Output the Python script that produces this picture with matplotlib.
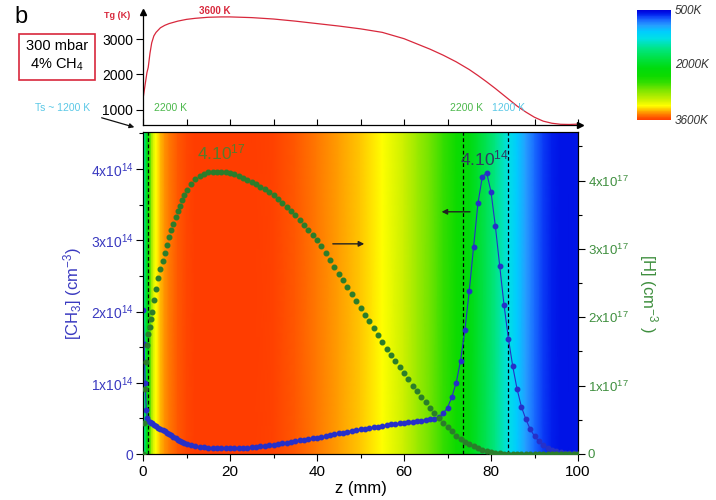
import numpy as np
import matplotlib
matplotlib.use("Agg")
import matplotlib.pyplot as plt
from matplotlib.colors import LinearSegmentedColormap, Normalize
import matplotlib.cm as cm
from matplotlib.ticker import MultipleLocator, FixedLocator

plt.rcParams['font.family'] = ['Liberation Sans', 'DejaVu Sans']
plt.rcParams['mathtext.fontset'] = 'custom'
plt.rcParams['mathtext.rm'] = 'Liberation Sans'
plt.rcParams['mathtext.it'] = 'Liberation Sans:italic'
plt.rcParams['mathtext.bf'] = 'Liberation Sans:bold'

# ---------------- data ----------------
# gas temperature profile Tg(z)
tg_z = [0, 0.3, 0.6, 0.9, 1.2, 1.6, 2, 2.5, 3, 4, 5, 6, 8, 10, 12, 15, 18, 20, 25, 30,
        35, 40, 45, 50, 55, 60, 63, 66, 69, 72, 73.5, 75, 77, 79, 81, 83, 84, 86, 88, 90,
        92, 94, 96, 98, 100]
tg_T = [1300, 1550, 1800, 2050, 2200, 2600, 2900, 3100, 3200, 3330, 3400, 3450, 3520, 3570, 3600,
        3630, 3640, 3640, 3620, 3580, 3520, 3450, 3380, 3300, 3200, 3020, 2870, 2720, 2550, 2360,
        2250, 2140, 1970, 1790, 1600, 1400, 1300, 1100, 930, 780, 670, 610, 580, 575, 585]

# z grid for species profiles (mm)
z = ([0, 0.25, 0.5, 0.75, 1.0, 1.25, 1.5, 1.75, 2.0]
     + [2.5, 3.0, 3.5, 4.0, 4.5, 5.0, 5.5, 6.0, 6.5, 7.0, 7.5, 8.0, 8.5, 9.0, 9.5]
     + list(range(10, 101)))

# [H] in units of 1e17 cm^-3
h_vals = [0.0, 0.45, 0.95, 1.35, 1.60, 1.75, 1.86, 1.97, 2.07,
          2.25, 2.42, 2.57, 2.70, 2.82, 2.94, 3.05, 3.17, 3.27, 3.36, 3.46, 3.55, 3.63, 3.72, 3.79,
          3.86, 3.95, 4.02, 4.07, 4.10, 4.12, 4.13, 4.13, 4.13, 4.12,   # 10-19
          4.11, 4.09, 4.07, 4.04, 4.01, 3.98, 3.95, 3.91, 3.87, 3.83,   # 20-29
          3.79, 3.73, 3.67, 3.61, 3.55, 3.49, 3.42, 3.35, 3.28, 3.21,   # 30-39
          3.13, 3.04, 2.94, 2.84, 2.74, 2.64, 2.54, 2.44, 2.34, 2.24,   # 40-49
          2.14, 2.04, 1.94, 1.84, 1.74, 1.64, 1.54, 1.45, 1.36, 1.27,   # 50-59
          1.18, 1.09, 1.00, 0.92, 0.84, 0.76, 0.68, 0.60, 0.53, 0.46,   # 60-69
          0.39, 0.33, 0.27, 0.22, 0.18, 0.14, 0.11, 0.085, 0.065, 0.045,  # 70-79
          0.03, 0.02, 0.012, 0.007, 0.004, 0.002, 0.001, 0.0, 0.0, 0.0,  # 80-89
          0.0, 0.0, 0.0, 0.0, 0.0, 0.0, 0.0, 0.0, 0.0, 0.0, 0.0]         # 90-100

# [CH3] in units of 1e14 cm^-3
ch3_vals = [2.02, 1.55, 1.00, 0.62, 0.50, 0.47, 0.45, 0.44, 0.43,
            0.41, 0.39, 0.37, 0.355, 0.34, 0.32, 0.30, 0.28, 0.26, 0.24, 0.22, 0.20, 0.185, 0.17, 0.155,
            0.14, 0.125, 0.11, 0.10, 0.092, 0.087, 0.083, 0.08, 0.08, 0.08,   # 10-19
            0.08, 0.08, 0.082, 0.085, 0.09, 0.095, 0.10, 0.107, 0.115, 0.122,  # 20-29
            0.13, 0.14, 0.15, 0.16, 0.17, 0.18, 0.19, 0.20, 0.21, 0.22,        # 30-39
            0.23, 0.24, 0.25, 0.26, 0.275, 0.29, 0.30, 0.315, 0.325, 0.335,    # 40-49
            0.345, 0.355, 0.365, 0.375, 0.385, 0.395, 0.405, 0.415, 0.425, 0.43,  # 50-59
            0.44, 0.445, 0.455, 0.46, 0.47, 0.475, 0.485, 0.495, 0.52, 0.57,   # 60-69
            0.65, 0.80, 1.00, 1.31, 1.74, 2.29, 2.91, 3.52, 3.89, 3.95,        # 70-79
            3.68, 3.20, 2.64, 2.09, 1.62, 1.23, 0.91, 0.66, 0.49, 0.35,        # 80-89
            0.25, 0.18, 0.13, 0.09, 0.06, 0.045, 0.03, 0.02, 0.015, 0.01, 0.008]  # 90-100

dashed_z = [1.2, 73.5, 84.0]
ch3_ticks = [0, 1, 2, 3, 4]
ch3_ticklabels = ['0', '1x10$^{14}$', '2x10$^{14}$', '3x10$^{14}$', '4x10$^{14}$']
h_ticks = [0, 1, 2, 3, 4]
h_ticklabels = ['0', '1x10$^{17}$', '2x10$^{17}$', '3x10$^{17}$', '4x10$^{17}$']
x_ticks = [0, 20, 40, 60, 80, 100]
tg_ticks = [1000, 2000, 3000]
cb_ticks = [500, 2000, 3600]
cb_ticklabels = ['500K', '2000K', '3600K']

# ---------------- colours ----------------
stops_T = [500, 600, 680, 780, 930, 1100, 1300, 1600, 1880, 2140, 2360, 2550, 2770, 3020,
           3200, 3300, 3380, 3450, 3530, 3600]
stops_c = [(0, 0, 0.85), (0, 0.1, 0.92), (0.05, 0.25, 0.97), (0.1, 0.42, 1), (0.15, 0.62, 1),
           (0, 0.8, 1), (0, 0.88, 0.9), (0, 0.9, 0.5), (0, 0.88, 0.25), (0, 0.86, 0.05),
           (0.05, 0.86, 0), (0.2, 0.87, 0), (0.5, 0.9, 0), (0.78, 0.94, 0), (1, 1, 0),
           (1, 0.8, 0), (1, 0.62, 0), (1, 0.48, 0), (1, 0.34, 0), (1, 0.24, 0)]
tmin, tmax = 500, 3600
cmap = LinearSegmentedColormap.from_list(
    'plasma_T', [((t - tmin) / (tmax - tmin), c) for t, c in zip(stops_T, stops_c)])
norm = Normalize(tmin, tmax, clip=True)

BLUE = '#2630c8'
BLUE_TXT = '#3a3ac0'
GREEN = '#2b7d2b'
GREEN_TXT = '#3f8f3f'
RED = '#d8283c'

W, H = 716, 500
fig = plt.figure(figsize=(W / 100, H / 100), dpi=100)


def fx(x):
    return x / W


def fy(y):
    return 1 - y / H


# ---------------- main axes ----------------
ax = fig.add_axes([fx(143), fy(454), fx(578) - fx(143), fy(132) - fy(454)])
ax.set_xlim(0, 100)
ax.set_ylim(0, 4.52)
C = np.vstack([tg_T, tg_T])
ax.pcolormesh(tg_z, [0, 4.52], C, cmap=cmap, norm=norm, shading='gouraud', zorder=0)
for dz in dashed_z:
    ax.axvline(dz, color='k', lw=0.9, ls=(0, (3, 2)), zorder=1)
ax.plot(z, ch3_vals, '-o', color=BLUE, lw=0.8, ms=3.2, mec=BLUE, mfc=BLUE, zorder=3)

ax.xaxis.set_major_locator(FixedLocator(x_ticks))
ax.xaxis.set_minor_locator(MultipleLocator(10))
ax.set_yticks(ch3_ticks)
ax.set_yticklabels(ch3_ticklabels)
ax.yaxis.set_minor_locator(MultipleLocator(0.5))
ax.tick_params(axis='x', which='major', length=5, width=0.8, labelsize=11, pad=3)
ax.tick_params(axis='x', which='minor', length=3, width=0.8)
ax.tick_params(axis='y', which='major', length=5, width=0.8, labelsize=10, colors='k',
               labelcolor=BLUE_TXT, pad=2)
ax.tick_params(axis='y', which='minor', length=3, width=0.8)
for s in ax.spines.values():
    s.set_linewidth(0.8)
ax.set_xlabel('z (mm)', fontsize=12, labelpad=1)

ax2 = ax.twinx()
ax2.set_ylim(0, 4.71)
ax2.plot(z, h_vals, 'o', color=GREEN, ms=3.3, mec=GREEN, mfc=GREEN, zorder=3)
ax2.set_yticks(h_ticks)
ax2.set_yticklabels(h_ticklabels)
ax2.yaxis.set_minor_locator(MultipleLocator(0.5))
ax2.tick_params(axis='y', which='major', length=5, width=0.8, labelsize=9.5,
                labelcolor=GREEN_TXT, pad=2)
ax2.tick_params(axis='y', which='minor', length=3, width=0.8)

fig.text(fx(73), fy(293), '[CH$_3$] (cm$^{-3}$)', rotation=90, color=BLUE_TXT,
         fontsize=12, ha='center', va='center')
fig.text(fx(648), fy(293), '[H] (cm$^{-3}$ )', rotation=-90, color=GREEN_TXT,
         fontsize=12, ha='center', va='center')

fig.text(fx(221), fy(152), '4.10$^{17}$', color='#5a7a2a', fontsize=12.5, ha='center', va='center')
fig.text(fx(485), fy(158), '4.10$^{14}$', color='#303a60', fontsize=12.5, ha='center', va='center')
ax.annotate('', xy=(51.5, 2.95), xytext=(43.0, 2.95),
            arrowprops=dict(arrowstyle='-|>', color='#222222', lw=1.0, mutation_scale=8))
ax.annotate('', xy=(68.0, 3.40), xytext=(75.8, 3.40),
            arrowprops=dict(arrowstyle='-|>', color='#222222', lw=1.0, mutation_scale=8))

# ---------------- top Tg panel ----------------
axt = fig.add_axes([fx(143), fy(125), fx(578) - fx(143), fy(12) - fy(125)])
axt.set_xlim(0, 100)
axt.set_ylim(560, 3780)
axt.plot(tg_z, tg_T, color=RED, lw=0.9)
axt.patch.set_alpha(0)
for side in ['top', 'right']:
    axt.spines[side].set_visible(False)
for side in ['left', 'bottom']:
    axt.spines[side].set_linewidth(0.9)
axt.plot(1.005, 0, '>k', ms=4, transform=axt.transAxes, clip_on=False)
axt.plot(0, 1.0, '^k', ms=4, transform=axt.transAxes, clip_on=False)
axt.set_yticks(tg_ticks)
axt.tick_params(axis='y', length=5, width=0.8, labelsize=10, pad=2)
axt.xaxis.set_major_locator(FixedLocator(x_ticks))
axt.xaxis.set_minor_locator(MultipleLocator(10))
axt.tick_params(axis='x', which='major', direction='in', length=4, width=0.8, labelbottom=False)
axt.tick_params(axis='x', which='minor', direction='in', length=4, width=0.8)

fig.text(fx(117), fy(15), 'Tg (K)', color=RED, fontsize=6.5, fontweight='bold', ha='center', va='center')
fig.text(fx(215), fy(11), '3600 K', color=RED, fontsize=7, fontweight='bold', ha='center', va='center')
fig.text(fx(170), fy(108), '2200 K', color='#4bb84b', fontsize=7.5, ha='center', va='center')
fig.text(fx(63), fy(108), 'Ts ~ 1200 K', color='#5ac8e6', fontsize=7.5, ha='center', va='center')
fig.text(fx(466), fy(108), '2200 K', color='#4bb84b', fontsize=7.5, ha='center', va='center')
fig.text(fx(509), fy(108), '1200 K', color='#5ac8e6', fontsize=7.5, ha='center', va='center')
axt.annotate('', xy=(fx(137), fy(128)), xycoords='figure fraction',
             xytext=(fx(99), fy(117)), textcoords='figure fraction', annotation_clip=False,
             arrowprops=dict(arrowstyle='-|>', color='#111111', lw=0.9, mutation_scale=7))

# label "b" and condition box
fig.text(fx(21), fy(17), 'b', fontsize=17, ha='center', va='center')
fig.text(fx(57), fy(56), '300 mbar\n4% CH$_4$', fontsize=10.5, ha='center', va='center',
         linespacing=1.3,
         bbox=dict(boxstyle='square,pad=0.45', fc='white', ec=RED, lw=1.2))

# ---------------- colour bar ----------------
cax = fig.add_axes([fx(637), fy(120), fx(671) - fx(637), fy(10) - fy(120)])
sm = cm.ScalarMappable(norm=norm, cmap=cmap)
cb = fig.colorbar(sm, cax=cax)
cb.outline.set_visible(False)
cax.invert_yaxis()
cb.set_ticks(cb_ticks)
cb.set_ticklabels(cb_ticklabels)
cax.tick_params(length=0, pad=3, labelsize=8.5, labelcolor='#333333')
for lab in cax.get_yticklabels():
    lab.set_fontstyle('italic')

fig.savefig('out.png', dpi=100)
